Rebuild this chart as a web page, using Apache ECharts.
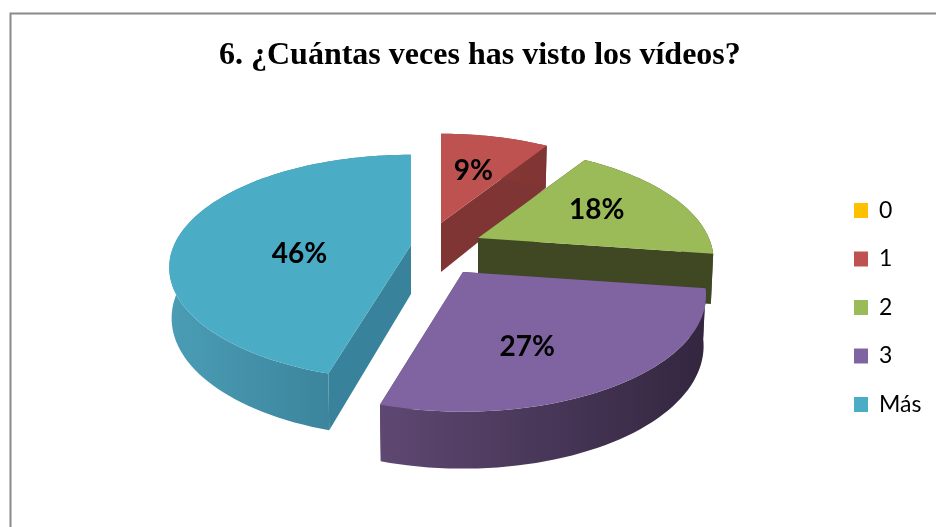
<!DOCTYPE html>
<html><head><meta charset="utf-8">
<style>html,body{margin:0;padding:0;background:#fff}#c{width:936px;height:527px}</style>
<script src="https://cdn.jsdelivr.net/npm/echarts@6/dist/echarts.min.js"></script>
</head><body><div id="c"></div>
<script>
const titleText = '6. ¿Cuántas veces has visto los vídeos?';
const categories = ['0', '1', '2', '3', 'Más'];
const values = [0, 9.1, 18.2, 27.3, 45.5];
const topColors = ['#FFC000', '#BE5250', '#9BBB59', '#8064A2', '#4BACC6'];
const innerWallColors = ['#FFC000', '#7F3533', '#3F4823', '#4d3a66', '#38829B'];
const outerWallStops = [
  ['#FFC000', '#FFC000'],
  ['#8f3c3a', '#7F3533'],
  ['#3F4823', '#3F4823'],
  ['#5e4872', '#33263F'],
  ['#4A9DB6', '#35788E']
];
const apexX = [430, 441, 478, 463, 411];
const apexY = [230, 223, 238, 272, 245];
const sliceScaleX = [1, 0.94, 0.95, 0.98, 0.975];
const sliceScaleY = [1, 0.94, 0.95, 0.98, 0.95];
const labelNudgeX = [0, 3, 18, -6, 4];
const labelNudgeY = [0, -5, -6, 24, 17];

const total = values.reduce((a, b) => a + b, 0);
const R = 243, A = 114, K = 0.2;
function proj(clock, f) {
  const X = Math.sin(clock) * f, Y = Math.cos(clock) * f;
  const w = 1 + K * Y;
  return { x: R * X / w, y: -A * Y / w, Y: Y };
}
function makeRender(idx) {
  return function (params, api) {
    const v = api.value(0);
    if (!v) return { type: 'group', children: [] };
    let before = 0;
    for (let i = 0; i < idx; i++) before += values[i];
    const a0 = before / total * Math.PI * 2, a1 = (before + v) / total * Math.PI * 2;
    const ax = apexX[idx], ay = apexY[idx], sx = sliceScaleX[idx], sy = sliceScaleY[idx];
    const top = [], bot = [];
    const n = Math.max(24, Math.round((a1 - a0) * 30));
    const lower = (p) => [ax + p.x * sx * 0.99, ay + p.y * sy + 49 - 8 * p.Y];
    for (let i = 0; i <= n; i++) {
      const p = proj(a0 + (a1 - a0) * i / n, 1);
      top.push([ax + p.x * sx, ay + p.y * sy]);
      bot.push(lower(p));
    }
    const apexB = [ax, ay + 49];
    const wall = (pt, pb) => ({ type: 'polygon', shape: { points: [[ax, ay], pt, pb, apexB] },
      style: { fill: innerWallColors[idx] } });
    const mid = proj((a0 + a1) / 2, 0.5);
    return { type: 'group', children: [
      wall(top[0], bot[0]),
      wall(top[n], bot[n]),
      { type: 'polygon', shape: { points: top.concat(bot.slice().reverse()) },
        style: { fill: new echarts.graphic.LinearGradient(0, 0, 1, 0, [
          { offset: 0, color: outerWallStops[idx][0] }, { offset: 1, color: outerWallStops[idx][1] }]) } },
      { type: 'polygon', shape: { points: [[ax, ay]].concat(top) }, style: { fill: topColors[idx] } },
      { type: 'text', style: { text: Math.round(v) + '%',
          x: ax + mid.x * sx + labelNudgeX[idx], y: ay + mid.y * sy + labelNudgeY[idx],
          fill: '#000', font: 'bold 28px Lato', align: 'center', verticalAlign: 'middle' } }
    ] };
  };
}
const chart = echarts.init(document.getElementById('c'), null, { renderer: 'canvas' });
chart.setOption({
  animation: false,
  backgroundColor: '#fff',
  title: { text: titleText, left: 214, top: 35, itemGap: 0,
    textStyle: { fontFamily: 'Liberation Serif', fontWeight: 'bold', fontSize: 32, color: '#000' } },
  legend: { orient: 'vertical', left: 849, top: 194, itemWidth: 14, itemHeight: 15, itemGap: 25.5,
    icon: 'rect', selectedMode: false,
    textStyle: { fontFamily: 'Lato', fontSize: 23, color: '#000', padding: [0, 0, 0, 6] },
    data: categories },
  graphic: [{ type: 'rect', silent: true, z: -1,
    shape: { x: 10.5, y: 13.5, width: 960, height: 560 },
    style: { fill: 'transparent', stroke: '#8a8a8a', lineWidth: 2 } }],
  series: categories.map((name, i) => ({
    type: 'custom', name: name, coordinateSystem: 'none',
    itemStyle: { color: topColors[i] },
    renderItem: makeRender(i),
    data: [[values[i]]]
  }))
});
</script></body></html>
